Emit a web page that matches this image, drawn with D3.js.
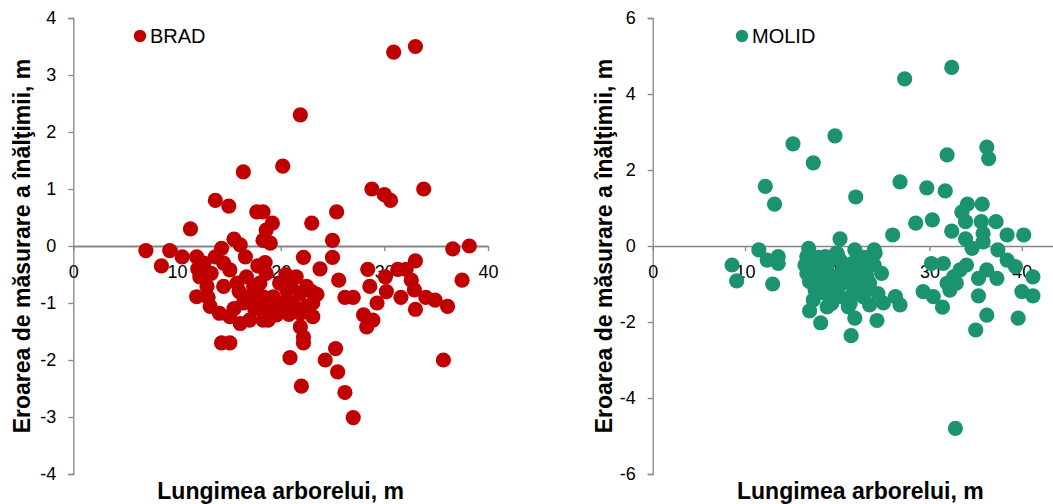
<!DOCTYPE html>
<html>
<head>
<meta charset="utf-8">
<script src="https://cdn.jsdelivr.net/npm/d3@7"></script>
<style>
  html, body { margin: 0; padding: 0; background: #fff; }
  svg { display: block; font-family: "Liberation Sans", Arial, sans-serif; }
  .axis path, .axis line { stroke: #868686; }
  .axis text { fill: #000; font-size: 18px; }
</style>
</head>
<body>
<svg id="chart" width="1053" height="504"></svg>
<script>
// ---------- DATA ----------
const bradLength = [30.9,33.0,21.9,20.2,16.4,13.7,15.0,17.7,18.3,19.2,18.6,18.3,19.0,11.3,28.8,30.0,30.6,33.8,25.4,23.0,25.0,36.6,38.2,15.5,16.1,14.3,7.0,9.3,8.5,10.5,11.9,13.7,16.6,18.5,22.2,23.8,25.0,25.6,26.2,27.0,25.3,14.3,15.1,11.9,13.2,14.1,15.1,16.1,17.0,18.3,19.6,12.2,13.3,14.5,15.1,15.8,12.9,14.5,16.7,17.4,18.3,17.0,16.4,18.0,18.6,19.3,20.6,19.9,18.6,18.0,21.5,21.9,22.5,21.2,20.6,21.9,21.9,23.1,22.2,22.2,28.4,28.6,30.2,29.3,28.0,28.9,28.3,30.1,31.3,32.1,33.0,32.6,32.9,31.6,33.0,34.0,34.9,36.1,37.5,35.7,20.9,22.0,24.3,25.5,26.2,27.0,18.8,22.5,23.1,12.0,13.0,16.0,17.5,19.0,20.0,20.5,21.0,23.0,12.6,15.5,17.8,20.8,23.5];
const bradError  = [3.4,3.5,2.3,1.4,1.3,0.8,0.7,0.6,0.6,0.4,0.28,0.1,0.05,0.3,1.0,0.9,0.8,1.0,0.6,0.4,0.1,-0.05,0.0,0.12,0.02,-0.04,-0.08,-0.08,-0.35,-0.19,-0.19,-0.19,-0.19,-0.29,-0.2,-0.4,-0.2,-0.6,-0.9,-0.9,-1.8,-1.7,-1.7,-0.89,-1.06,-1.18,-1.24,-1.36,-1.3,-1.3,-1.21,-0.54,-0.48,-0.3,-0.42,-0.65,-0.71,-0.71,-0.54,-0.71,-0.89,-0.89,-1.0,-1.06,-1.12,-0.89,-0.77,-0.65,-0.48,-0.65,-0.54,-0.83,-0.71,-1.0,-0.95,-1.18,-1.42,-1.24,-1.6,-1.7,-0.41,-0.71,-0.8,-1.0,-1.21,-1.3,-1.42,-0.54,-0.41,-0.41,-0.26,-0.6,-0.77,-0.9,-1.11,-0.9,-0.95,-1.06,-0.6,-2.0,-1.96,-2.46,-2.0,-2.21,-2.57,-3.01,-1.3,-1.06,-1.0,-0.4,-0.9,-0.8,-1.1,-1.0,-1.1,-0.5,-0.7,-0.8,-0.3,-1.1,-0.35,-1.2,-0.85];

const molidLength = [15.2,19.75,17.4,12.2,13.2,22.0,20.3,11.5,16.9,27.3,32.4,36.2,36.4,31.9,26.8,29.7,31.7,34.1,35.7,33.5,33.9,35.6,37.2,28.5,30.3,32.4,33.9,35.8,35.8,38.4,40.2,26.0,21.9,24.0,34.6,37.4,32.8,12.4,13.6,13.6,13.0,8.6,9.1,16.7,16.5,16.7,17.0,17.6,17.0,18.2,18.9,18.7,19.9,24.1,24.8,23.5,24.4,26.3,26.8,23.5,24.3,21.9,21.5,21.2,19.6,20.6,21.7,19.2,20.3,21.7,22.5,22.8,20.3,21.6,17.8,17.8,18.5,18.7,20.6,21.4,22.8,17.4,19.4,29.3,30.4,31.4,30.2,31.5,31.9,32.6,33.3,34.0,32.2,32.9,35.3,36.2,37.3,35.3,36.2,35.0,39.6,40.0,41.2,41.2,39.3,38.4,22.9,19.0,22.0,23.2,20.0,19.5,18.0,19.0,20.0,21.0,22.0,23.0,24.0,25.0,18.4];
const molidError  = [2.69,2.9,2.19,1.57,1.1,1.29,0.19,-0.1,-0.06,4.4,4.7,2.6,2.3,2.4,1.69,1.53,1.45,1.1,1.1,0.89,0.64,0.64,0.64,0.6,0.69,0.39,0.19,0.33,0.11,0.29,0.29,0.29,-0.1,-0.1,-0.06,-0.1,-4.8,-0.37,-0.28,-0.46,-1.0,-0.5,-0.92,-0.28,-0.5,-0.72,-0.94,-1.16,-1.71,-2.02,-1.6,-0.28,-0.19,-0.19,-0.72,-0.98,-1.25,-1.33,-1.55,-1.55,-1.96,-1.9,-2.36,-1.6,-0.81,-0.63,-0.81,-1.16,-1.33,-1.25,-0.98,-0.63,-0.37,-0.46,-0.54,-0.9,-0.81,-1.25,-0.98,-1.51,-1.33,-1.42,-1.51,-1.2,-1.33,-1.61,-0.46,-0.46,-0.98,-0.81,-0.63,-0.5,-1.16,-0.98,-0.85,-0.63,-0.85,-1.31,-1.82,-2.21,-1.9,-1.2,-1.31,-0.81,-0.54,-0.37,-0.3,-0.45,-0.6,-0.8,-1.1,-1.0,-0.3,-0.7,-0.2,-0.9,-1.1,-1.2,-0.5,-1.5,-1.0];

const xTicks = [0, 10, 20, 30, 40];
const bradYTicks = [-4, -3, -2, -1, 0, 1, 2, 3, 4];
const molidYTicks = [-6, -4, -2, 0, 2, 4, 6];

const xTitle = "Lungimea arborelui, m";
const yTitle = "Eroarea de măsurare a înălţimii, m";

// ---------- DRAW ----------
const svg = d3.select("#chart");

function panel(cfg) {
  const g = svg.append("g");
  const x = d3.scaleLinear().domain(cfg.xDomain).range(cfg.xRange);
  const y = d3.scaleLinear().domain(cfg.yDomain).range([474, 18]);

  const ya = g.append("g").attr("class", "axis")
    .attr("transform", `translate(${x(0)},0)`)
    .call(d3.axisLeft(y).tickValues(cfg.yTicks).tickSize(5).tickPadding(12).tickFormat(d => String(d)));
  ya.select(".domain").attr("stroke-width", 1.3);
  ya.selectAll(".tick line").attr("stroke-width", 1.3);

  const xa = g.append("g").attr("class", "axis")
    .attr("transform", `translate(0,${y(0)})`)
    .call(d3.axisBottom(x).tickValues(xTicks).tickSize(5).tickSizeOuter(0).tickPadding(14).tickFormat(d => String(d)));
  xa.select(".domain").attr("stroke-width", cfg.xAxisWidth);
  xa.selectAll(".tick line").attr("stroke-width", 1.3);

  g.append("g").selectAll("circle")
    .data(cfg.xs.map((v, i) => [v, cfg.ys[i]]))
    .join("circle")
    .attr("cx", d => x(d[0]))
    .attr("cy", d => y(d[1]))
    .attr("r", 7.6)
    .attr("fill", cfg.color);

  g.append("circle").attr("cx", cfg.legendX).attr("cy", 36).attr("r", 6.2).attr("fill", cfg.color);
  g.append("text").attr("x", cfg.legendX + 10).attr("y", 43)
    .attr("font-size", 20).attr("fill", "#000").text(cfg.name);

  g.append("text")
    .attr("x", (cfg.xRange[0] + cfg.xRange[1]) / 2).attr("y", 499)
    .attr("text-anchor", "middle").attr("font-size", 23).attr("font-weight", "bold")
    .text(xTitle);

  g.append("text")
    .attr("transform", `translate(${cfg.yTitleX},246) rotate(-90)`)
    .attr("text-anchor", "middle").attr("font-size", 23).attr("font-weight", "bold")
    .text(yTitle);
}

panel({
  name: "BRAD", color: "#C00000",
  xs: bradLength, ys: bradError,
  xDomain: [0, 40], xRange: [73.3, 488],
  yDomain: [-4, 4], yTicks: bradYTicks,
  xAxisWidth: 2, legendX: 140, yTitleX: 30
});

panel({
  name: "MOLID", color: "#1B9370",
  xs: molidLength, ys: molidError,
  xDomain: [0, 45], xRange: [652.7, 1068],
  yDomain: [-6, 6], yTicks: molidYTicks,
  xAxisWidth: 1.3, legendX: 742, yTitleX: 612
});
</script>
</body>
</html>
